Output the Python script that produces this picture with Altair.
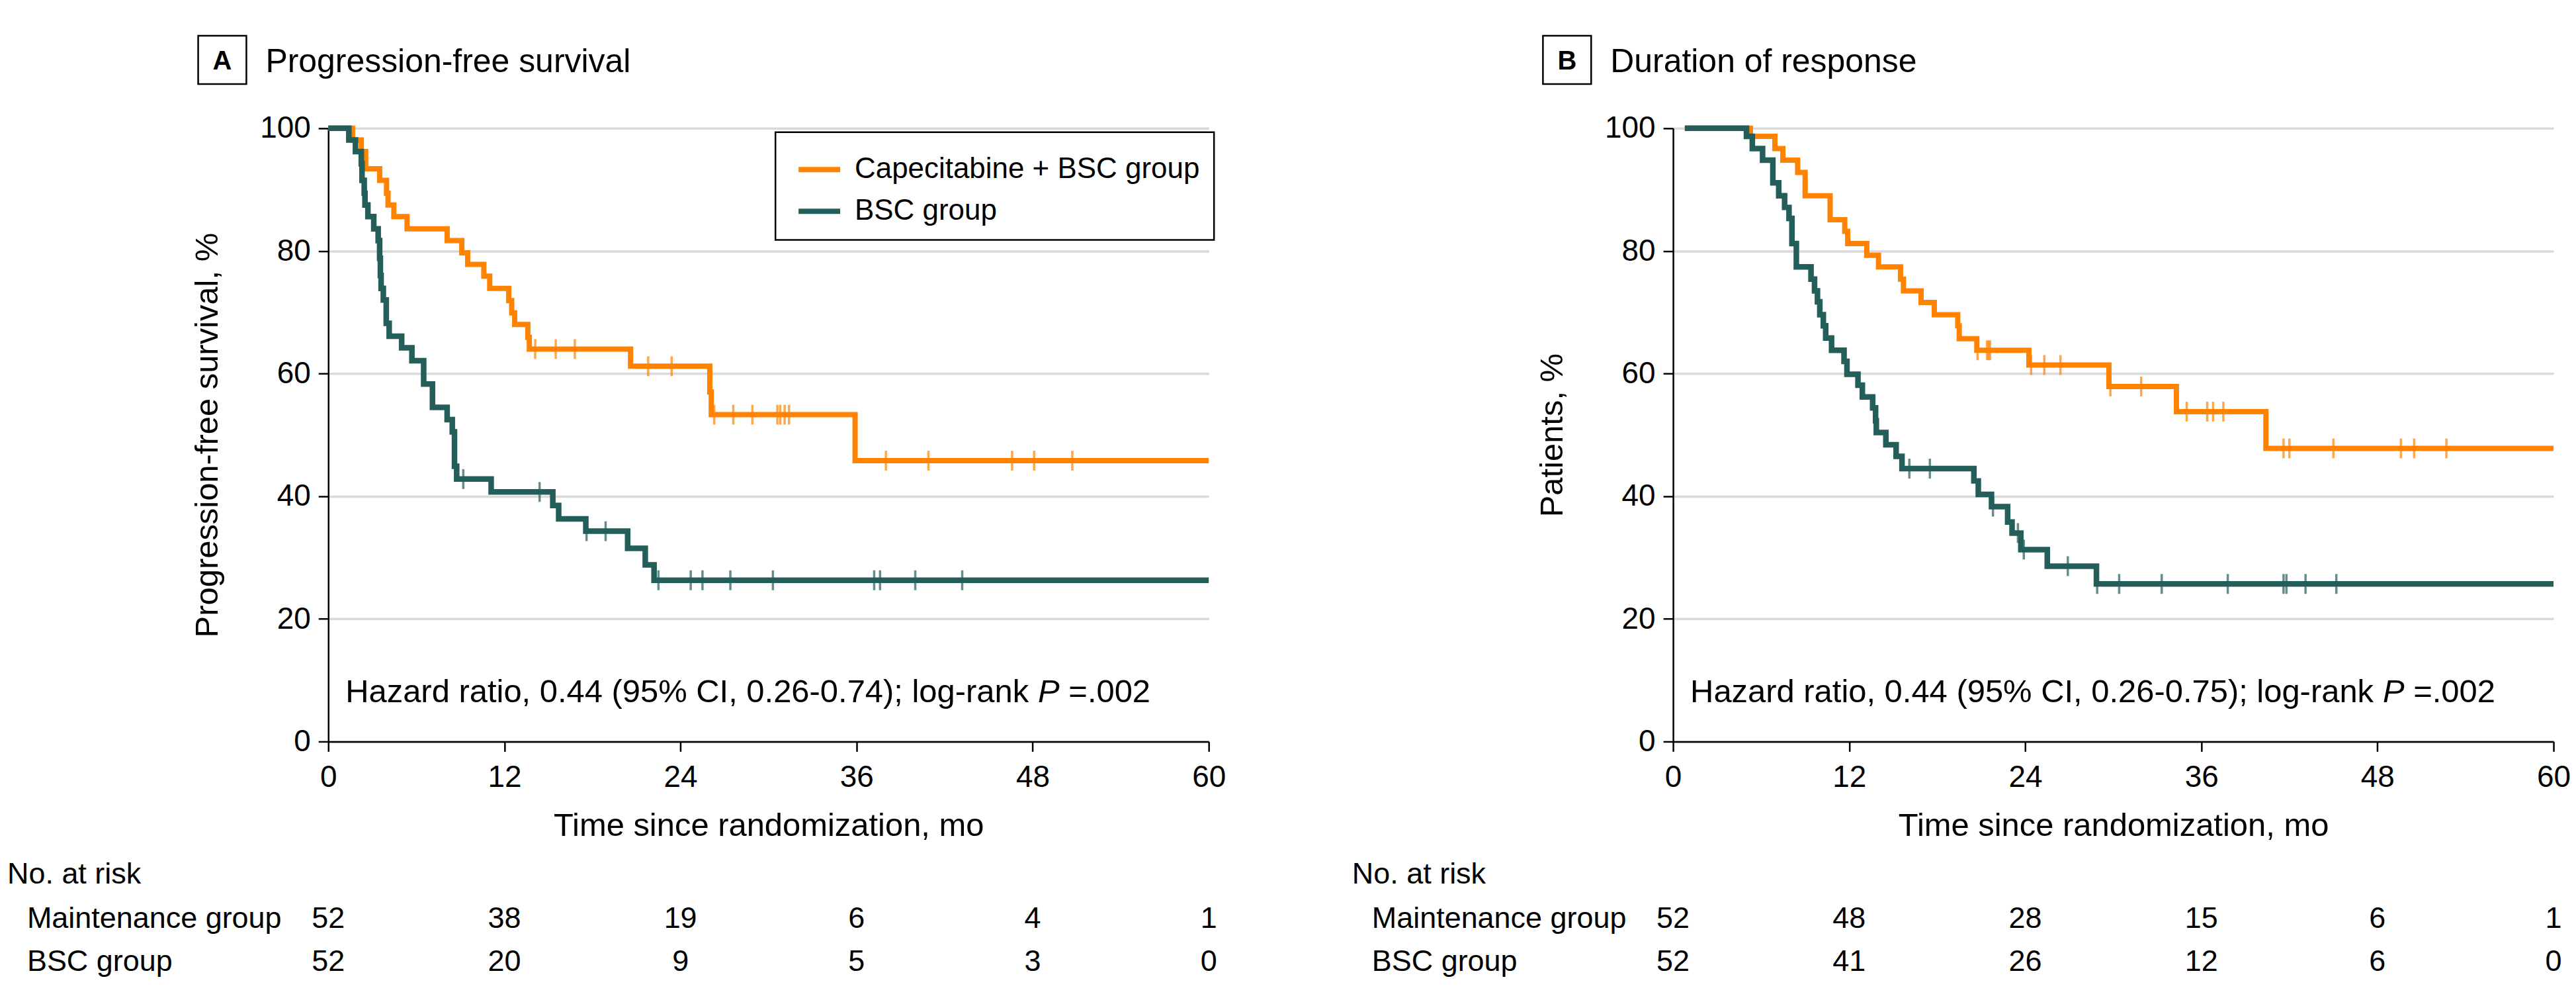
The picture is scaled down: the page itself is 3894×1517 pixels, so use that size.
import altair as alt
import pandas as pd

FONT = "Liberation Sans, Arial, sans-serif"
ORANGE = "#FF8200"
TEAL = "#235E5A"

groups = ["Capecitabine + BSC group", "BSC group"]
x_ticks = [0, 12, 24, 36, 48, 60]
y_ticks = [0, 20, 40, 60, 80, 100]

# ---------------- Panel A: progression-free survival ----------------
a_cap_time = [0, 1.65, 2.25, 2.55, 3.5, 3.97, 4.07, 4.47, 5.37, 8.1, 9.1, 9.5, 10.6, 11.0,
              12.3, 12.5, 12.7, 13.6, 13.7, 20.6, 26.0, 26.1, 35.9, 60]
a_cap_surv = [100, 98.1, 96.2, 93.4, 91.5, 89.4, 87.5, 85.6, 83.6, 81.7, 79.7, 77.8, 75.9, 73.9,
              71.9, 69.9, 68.0, 65.9, 64.0, 61.2, 57.0, 53.3, 45.8, 45.8]
a_cap_censor = [14.1, 15.5, 16.8, 21.8, 23.4, 26.3, 27.6, 28.9, 30.6, 30.8, 31.1, 31.4,
                38.0, 40.9, 46.6, 48.1, 50.7]
a_bsc_time = [0, 1.4, 1.85, 2.25, 2.3, 2.45, 2.5, 2.7, 3.1, 3.4, 3.5, 3.55, 3.6, 3.75, 3.95,
              4.15, 5.0, 5.7, 6.5, 7.1, 8.1, 8.45, 8.6, 8.75, 11.1, 15.3, 15.7, 17.55, 20.4,
              21.6, 22.2, 60]
a_bsc_surv = [100, 98.1, 96.2, 94.2, 91.5, 89.4, 87.5, 85.6, 83.6, 81.7, 78.8, 76.0, 73.9, 72.0,
              68.2, 66.1, 64.2, 62.1, 58.3, 54.5, 52.5, 50.5, 44.9, 42.8, 40.7, 38.5, 36.3, 34.3,
              31.5, 28.8, 26.3, 26.3]
a_bsc_censor = [9.2, 14.4, 17.6, 18.9, 22.5, 24.7, 25.5, 27.4, 30.3, 37.2, 37.6, 40.0, 43.2]
a_risk_cap = [52, 38, 19, 6, 4, 1]
a_risk_bsc = [52, 20, 9, 5, 3, 0]

# ---------------- Panel B: duration of response ----------------
b_cap_time = [0.8, 5.27, 6.94, 7.48, 8.49, 9.0, 10.7, 11.7, 11.9, 13.2, 14.0, 15.5, 15.7, 16.9,
              17.8, 19.4, 19.5, 20.7, 24.25, 29.7, 34.3, 40.4, 60]
b_cap_surv = [100, 98.7, 96.7, 94.8, 92.8, 89.0, 85.1, 83.2, 81.2, 79.3, 77.4, 75.4, 73.5, 71.6,
              69.6, 67.8, 65.7, 63.8, 61.4, 57.9, 53.8, 47.8, 47.8]
b_cap_censor = [20.75, 21.4, 21.5, 21.6, 24.4, 25.3, 26.4, 29.8, 31.9, 35.0, 36.4, 36.8, 37.5,
                41.6, 42.0, 45.0, 49.6, 50.5, 52.7]
b_bsc_time = [0.8, 5.0, 5.4, 6.1, 6.8, 7.2, 7.6, 7.9, 8.1, 8.4, 9.4, 9.64, 9.84, 10.0, 10.24,
              10.4, 10.8, 11.65, 11.85, 12.6, 12.9, 13.6, 13.8, 13.85, 14.5, 15.2, 15.6, 20.5,
              20.8, 21.7, 22.8, 23.1, 23.7, 25.5, 28.85, 60]
b_bsc_surv = [100, 98.7, 96.7, 94.8, 91.1, 89.0, 87.1, 85.3, 81.2, 77.4, 75.4, 73.5, 71.7, 69.6,
              67.8, 65.8, 63.8, 62.0, 59.9, 58.1, 56.2, 54.4, 52.3, 50.4, 48.4, 46.5, 44.5, 42.5,
              40.3, 38.3, 35.8, 34.0, 31.3, 28.6, 25.7, 25.7]
b_bsc_censor = [16.1, 17.5, 21.8, 23.5, 23.9, 26.9, 28.9, 30.4, 33.3, 37.8, 41.6, 41.8, 43.1, 45.2]
b_risk_cap = [52, 48, 28, 15, 6, 1]
b_risk_bsc = [52, 41, 26, 12, 6, 0]

risk_row_labels = ["No. at risk", "Maintenance group", "BSC group"]

# Arial / Liberation Sans advance widths (1/1000 em) for placing the italic P
ARIAL_W = {' ': 278, '(': 333, ')': 333, ',': 278, '-': 333, '.': 278, ';': 278, '%': 889,
           '=': 584, 'C': 722, 'H': 722, 'I': 278, 'P': 667, 'a': 556, 'd': 556, 'g': 556,
           'i': 222, 'k': 500, 'l': 222, 'n': 556, 'o': 556, 'r': 333, 't': 278, 'z': 500}


def text_w(s, size):
    return sum(ARIAL_W.get(c, 556) for c in s) * size / 1000.0


def step_value(times, surv, t):
    v = surv[0]
    for ti, si in zip(times, surv):
        if t >= ti:
            v = si
    return v


def label(txt, x, y, size, align="left", weight="normal", style="normal"):
    return alt.Chart(pd.DataFrame({"label": [txt]})).mark_text(
        align=align, baseline="alphabetic", fontSize=size, font=FONT,
        fontWeight=weight, fontStyle=style, color="black").encode(
        x=alt.value(x), y=alt.value(y), text="label:N")


def panel(letter, title, ytitle, cap_t, cap_s, cap_c, bsc_t, bsc_s, bsc_c,
          risk_cap, risk_bsc, ci_text, with_legend):
    W, H = 1333, 928
    x_axis = alt.Axis(values=x_ticks, title="Time since randomization, mo", grid=False,
                      domainColor="black", domainWidth=2.5, tickColor="black", tickWidth=2.5,
                      tickSize=15, labelFontSize=46, labelPadding=17, labelFont=FONT,
                      labelColor="black", labelFlush=False, titleFontSize=49, titleFont=FONT,
                      titleFontWeight="normal", titleColor="black", titleBaseline="alphabetic",
                      titleY=142)
    y_axis = alt.Axis(values=y_ticks, title=ytitle, grid=True, gridColor="#D9D9D9",
                      gridWidth=3.5, domainColor="black", domainWidth=2.5, tickColor="black",
                      tickWidth=2.5, tickSize=15, labelFontSize=46, labelPadding=12,
                      labelFont=FONT, labelColor="black", titleFontSize=49, titleFont=FONT,
                      titleFontWeight="normal", titleColor="black", titleBaseline="alphabetic",
                      titleAngle=270, titleX=-168)
    x_enc = alt.X("t:Q", scale=alt.Scale(domain=[0, 60], nice=False, zero=False), axis=x_axis)
    y_enc = alt.Y("s:Q", scale=alt.Scale(domain=[0, 100], nice=False, zero=True), axis=y_axis)

    cap_df = pd.DataFrame({"t": cap_t, "s": cap_s, "group": groups[0]})
    bsc_df = pd.DataFrame({"t": bsc_t, "s": bsc_s, "group": groups[1]})
    cap_cdf = pd.DataFrame({"t": cap_c, "s": [step_value(cap_t, cap_s, t) for t in cap_c]})
    bsc_cdf = pd.DataFrame({"t": bsc_c, "s": [step_value(bsc_t, bsc_s, t) for t in bsc_c]})

    line_kw = dict(interpolate="step-after", strokeJoin="miter")
    if with_legend:
        legend = alt.Legend(title=None, orient="none", legendX=677, legendY=6,
                            strokeColor="black", fillColor="white", padding=21,
                            symbolType="stroke", symbolSize=3969, symbolStrokeWidth=8,
                            symbolOffset=10, labelFontSize=44, labelFont=FONT,
                            labelColor="black", labelOffset=18, rowPadding=5, labelLimit=2000)
        col = alt.Color("group:N", scale=alt.Scale(domain=groups, range=[ORANGE, TEAL]),
                        legend=legend)
        cap_line = alt.Chart(cap_df).mark_line(strokeWidth=8, **line_kw).encode(
            x=x_enc, y=y_enc, color=col)
        bsc_line = alt.Chart(bsc_df).mark_line(strokeWidth=8.5, **line_kw).encode(
            x=x_enc, y=y_enc, color=col)
    else:
        cap_line = alt.Chart(cap_df).mark_line(color=ORANGE, strokeWidth=8, **line_kw).encode(
            x=x_enc, y=y_enc)
        bsc_line = alt.Chart(bsc_df).mark_line(color=TEAL, strokeWidth=8.5, **line_kw).encode(
            x=x_enc, y=y_enc)

    tick_kw = dict(orient="vertical", size=30, thickness=3.5)
    cap_ticks = alt.Chart(cap_cdf).mark_tick(color=ORANGE, **tick_kw).encode(x=x_enc, y=y_enc)
    bsc_ticks = alt.Chart(bsc_cdf).mark_tick(color=TEAL, **tick_kw).encode(x=x_enc, y=y_enc)

    # panel heading: boxed letter + title
    box = alt.Chart(pd.DataFrame({"k": [0]})).mark_rect(
        fill="white", stroke="black", strokeWidth=2.5).encode(
        x=alt.value(-197), x2=alt.value(-124), y=alt.value(-140), y2=alt.value(-67))
    letter_t = label(letter, -160.5, -89, 40, align="center", weight="bold")
    title_t = label(title, -95, -85, 50)

    # hazard ratio annotation, with italic P
    hr_x, hr_y, hr_fs = 26, 868, 49
    pre = "Hazard ratio, 0.44 (95% CI, " + ci_text + "); log-rank"
    p_x = hr_x + text_w(pre + " ", hr_fs)
    post_x = p_x + text_w("P ", hr_fs)
    hr1 = label(pre, hr_x, hr_y, hr_fs)
    hr2 = label("P", p_x, hr_y, hr_fs, style="italic")
    hr3 = label("=.002", post_x, hr_y, hr_fs)

    # number-at-risk table
    risk_fs = 45
    cap_risk_df = pd.DataFrame({"t": x_ticks, "n": risk_cap})
    bsc_risk_df = pd.DataFrame({"t": x_ticks, "n": risk_bsc})
    r_kw = dict(align="center", baseline="alphabetic", fontSize=risk_fs, font=FONT, color="black")
    cap_risk = alt.Chart(cap_risk_df).mark_text(**r_kw).encode(
        x=x_enc, y=alt.value(1210), text="n:Q")
    bsc_risk = alt.Chart(bsc_risk_df).mark_text(**r_kw).encode(
        x=x_enc, y=alt.value(1275), text="n:Q")
    r0 = label(risk_row_labels[0], -486, 1143, risk_fs)
    r1 = label(risk_row_labels[1], -456, 1210, risk_fs)
    r2 = label(risk_row_labels[2], -456, 1275, risk_fs)

    return alt.layer(cap_line, bsc_line, cap_ticks, bsc_ticks, box, letter_t, title_t,
                     hr1, hr2, hr3, cap_risk, bsc_risk, r0, r1, r2).properties(width=W, height=H)


panel_a = panel("A", "Progression-free survival", "Progression-free survival, %",
                a_cap_time, a_cap_surv, a_cap_censor, a_bsc_time, a_bsc_surv, a_bsc_censor,
                a_risk_cap, a_risk_bsc, "0.26-0.74", True)
panel_b = panel("B", "Duration of response", "Patients, %",
                b_cap_time, b_cap_surv, b_cap_censor, b_bsc_time, b_bsc_surv, b_bsc_censor,
                b_risk_cap, b_risk_bsc, "0.26-0.75", False)

chart = alt.hconcat(panel_a, panel_b, spacing=703, bounds="flush").resolve_scale(
    color="independent").properties(
    padding={"left": 3, "top": 43, "right": 0, "bottom": 5},
    background="white").configure_view(stroke=None).configure_legend(strokeWidth=2.5)

chart.save("out.html", embed_options={"renderer": "svg", "actions": False})
